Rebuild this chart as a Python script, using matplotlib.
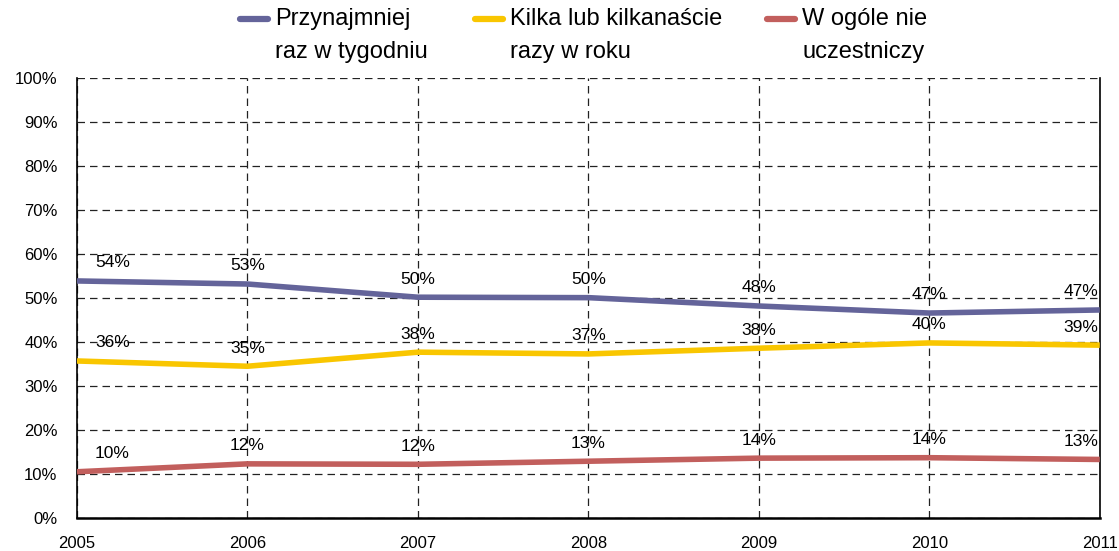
import matplotlib.pyplot as plt
from matplotlib.lines import Line2D
from matplotlib.ticker import PercentFormatter

plt.rcParams['font.family'] = ['Liberation Sans', 'DejaVu Sans']

years = [2005, 2006, 2007, 2008, 2009, 2010, 2011]
weekly = [53.9, 53.2, 50.2, 50.1, 48.2, 46.6, 47.3]
yearly = [35.7, 34.5, 37.7, 37.3, 38.6, 39.8, 39.3]
never = [10.5, 12.3, 12.2, 12.9, 13.6, 13.7, 13.3]

weekly_lbl = ['54%', '53%', '50%', '50%', '48%', '47%', '47%']
yearly_lbl = ['36%', '35%', '38%', '37%', '38%', '40%', '39%']
never_lbl = ['10%', '12%', '12%', '13%', '14%', '14%', '13%']

names = ['Przynajmniej\nraz w tygodniu', 'Kilka lub kilkanaście\nrazy w roku', 'W ogóle nie\nuczestniczy']
colors = ['#64649a', '#f9c600', '#c25f5d']

W, H = 1119, 551
fig = plt.figure(figsize=(W / 100, H / 100), dpi=100)
ax = fig.add_axes([0.0688, 0.06, 0.914, 0.798])

series = [weekly, yearly, never]
labels = [weekly_lbl, yearly_lbl, never_lbl]
for vals, lbls, c in zip(series, labels, colors):
    ax.plot(years, vals, color=c, lw=4, solid_capstyle='butt', zorder=3)
    for i, (x, y, t) in enumerate(zip(years, vals, lbls)):
        if i == 0:
            ha, dx = 'left', 13
        elif i == len(years) - 1:
            ha, dx = 'right', -1
        else:
            ha, dx = 'center', 0
        ax.annotate(t, (x, y), xytext=(dx, 13), textcoords='offset points',
                    ha=ha, va='center', fontsize=12.5, zorder=4)

ax.set_xlim(2005, 2011)
ax.set_ylim(0, 100)
ax.set_xticks(years)
ax.set_yticks(range(0, 101, 10))
ax.yaxis.set_major_formatter(PercentFormatter(decimals=0))
ax.tick_params(length=0, labelsize=12)
ax.tick_params(axis='y', pad=14)
ax.tick_params(axis='x', pad=13)
ax.grid(True, color='#222222', ls=(0, (6, 4)), lw=0.9)
ax.spines['top'].set_visible(False)
for s in ['left', 'right', 'bottom']:
    ax.spines[s].set_color('black')
ax.spines['left'].set_linewidth(1.2)
ax.spines['right'].set_linewidth(1.2)
ax.spines['bottom'].set_linewidth(1.8)

# legend drawn by hand so the marker sits on the first text line
leg_x = [240, 475, 767]
for x0, name, c in zip(leg_x, names, colors):
    fig.add_artist(Line2D([x0 / W, (x0 + 28) / W], [1 - 19 / H, 1 - 19 / H],
                          color=c, lw=4.5, solid_capstyle='round'))
    fig.text((x0 + 35) / W, 1 - 8 / H, name, ha='left', va='top',
             fontsize=17, linespacing=1.65)

fig.savefig('out.png', dpi=100)
